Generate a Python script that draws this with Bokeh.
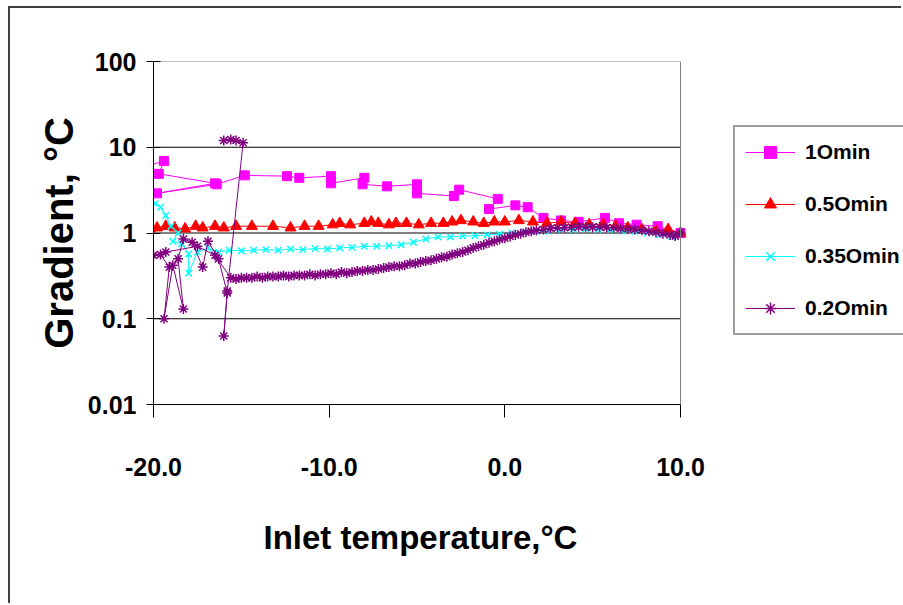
from bokeh.plotting import figure
from bokeh.models import (Legend, LegendItem, FixedTicker, NumeralTickFormatter, Range1d,
                          Span, Title)
from bokeh.embed import file_html
from bokeh.resources import INLINE

# ---------------- data ----------------
series_labels = ["1Omin", "0.5Omin", "0.35Omin", "0.2Omin"]
x_title = "Inlet temperature,°C"
y_title = "Gradient, °C"

m_x = [-20.4, -19.4, -19.7, -16.5, -19.8, -16.4, -14.8, -12.4, -11.7, -9.9, -9.9,
       -8.0, -8.1, -6.7, -5.0, -5.0, -2.9, -2.6, -0.4, -0.9, 0.6, 1.3, 2.2, 3.2,
       4.2, 5.7, 6.5, 7.5, 8.7, 10.0]
m_y = [6.0, 6.9, 4.9, 3.8, 2.9, 3.7, 4.7, 4.6, 4.4, 4.6, 3.8,
       4.4, 3.7, 3.5, 3.7, 2.9, 2.7, 3.2, 2.5, 1.9, 2.1, 2.0, 1.5, 1.4,
       1.35, 1.5, 1.3, 1.25, 1.2, 1.0]

r_x = [-20.2, -19.8, -19.3, -18.8, -18.2, -17.6, -17.2, -16.5, -16.0, -15.3, -14.4,
       -13.2, -12.2, -11.4, -10.6, -9.8, -9.4, -8.8, -8.0, -7.6, -7.2, -6.6, -6.2,
       -5.6, -4.9, -4.2, -3.5, -3.0, -2.5, -1.8, -1.2, -0.6, 0.0, 0.8, 1.6, 2.4,
       3.2, 4.0, 4.8, 5.6, 6.3, 7.0, 7.8, 8.6, 9.3, 10.0]
r_y = [1.12, 1.15, 1.2, 1.15, 1.12, 1.2, 1.15, 1.2, 1.15, 1.2, 1.2,
       1.2, 1.15, 1.2, 1.2, 1.25, 1.3, 1.25, 1.3, 1.35, 1.3, 1.25, 1.3,
       1.3, 1.25, 1.3, 1.3, 1.35, 1.4, 1.35, 1.3, 1.35, 1.35, 1.4, 1.35, 1.3,
       1.35, 1.3, 1.25, 1.25, 1.2, 1.15, 1.1, 1.05, 1.1, 1.0]

c_x = [-19.9, -19.6, -19.3, -19.0, -18.6, -18.9, -18.4, -18.0, -18.0, -17.5, -16.9,
       -16.3, -15.7, -15.0, -14.3, -13.6, -12.9, -12.2, -11.5, -10.8, -10.1, -9.4,
       -8.7, -8.0, -7.3, -6.6, -5.9, -5.2, -4.5, -3.8, -3.1, -2.4, -1.7, -1.0, -0.3,
       0.4, 1.1, 1.8, 2.5, 3.2, 3.9, 4.6, 5.3, 6.0, 6.7, 7.4, 8.1, 8.8, 9.5, 10.0]
c_y = [2.2, 2.0, 1.6, 1.2, 1.0, 0.8, 0.75, 0.57, 0.34, 0.6, 0.67,
       0.6, 0.63, 0.62, 0.63, 0.64, 0.63, 0.65, 0.64, 0.66, 0.65, 0.67,
       0.68, 0.7, 0.7, 0.71, 0.73, 0.78, 0.85, 0.9, 0.9, 0.92, 0.93, 0.95, 0.97,
       1.0, 1.02, 1.05, 1.05, 1.1, 1.1, 1.12, 1.1, 1.1, 1.05, 1.05, 1.0, 0.95, 0.9, 1.0]

p_x = [-16.0, -15.6, -15.3, -14.9, -15.8, -16.0, -15.8, -16.3, -16.9, -17.2, -17.8,
       -18.3, -18.6, -18.3, -18.9, -19.4, -19.1, -19.6, -20.0, -19.3, -17.5, -16.5,
       -15.6, -15.3, -15.0, -14.7, -14.4, -14.1, -13.8, -13.5, -13.2, -12.9, -12.6,
       -12.3, -12.0, -11.7, -11.4, -11.1, -10.8, -10.5, -10.2, -9.9, -9.6, -9.3,
       -9.0, -8.7, -8.4, -8.1, -7.8, -7.5, -7.2, -6.9, -6.6, -6.3, -6.0, -5.7, -5.4,
       -5.1, -4.8, -4.5, -4.2, -3.9, -3.6, -3.3, -3.0, -2.7, -2.4, -2.1, -1.8, -1.5,
       -1.2, -0.9, -0.6, -0.3, 0.0, 0.3, 0.6, 0.9, 1.2, 1.5, 1.8, 2.2, 2.6, 3.0, 3.4,
       3.8, 4.2, 4.6, 5.0, 5.4, 5.8, 6.2, 6.6, 7.0, 7.4, 7.8, 8.2, 8.6, 9.0, 9.4,
       9.7, 10.0]
p_y = [12.0, 12.3, 12.0, 11.3, 0.21, 0.063, 0.2, 0.5, 0.8, 0.4, 0.78,
       0.85, 0.5, 0.13, 0.42, 0.1, 0.4, 0.56, 0.55, 0.6, 0.7, 0.55,
       0.3, 0.29, 0.3, 0.3, 0.3, 0.31, 0.3, 0.31, 0.31, 0.31, 0.32,
       0.31, 0.32, 0.32, 0.32, 0.33, 0.32, 0.33, 0.33, 0.34, 0.33, 0.35,
       0.34, 0.35, 0.36, 0.36, 0.37, 0.37, 0.38, 0.39, 0.4, 0.41, 0.41, 0.42, 0.44,
       0.44, 0.46, 0.47, 0.48, 0.5, 0.52, 0.53, 0.56, 0.58, 0.6, 0.63, 0.67, 0.7,
       0.73, 0.77, 0.8, 0.84, 0.87, 0.91, 0.95, 0.98, 1.02, 1.05, 1.08, 1.1, 1.13, 1.15, 1.15,
       1.17, 1.18, 1.18, 1.17, 1.18, 1.16, 1.15, 1.13, 1.12, 1.1, 1.08, 1.05, 1.02, 0.98, 0.95,
       0.92, 1.0]

x_ticks = [-20, -10, 0, 10]
y_ticks = [0.01, 0.1, 1, 10, 100]
y_tick_labels = ["0.01", "0.1", "1", "10", "100"]
grid_dark = [0.1, 1, 10]
grid_top = [100]

FONT = "'Liberation Sans', Arial, sans-serif"

# layout numbers (pixels)
W, H = 893, 597            # canvas, offset (10, 8) in the page by CSS margin+border
LEFT, TOP, BOTTOM = 143, 53, 201
PLOT_W = 527               # width of the real plotting area (-20 .. 10)
x_lo, x_hi = x_ticks[0], x_ticks[-1]
x_end = x_lo + (x_hi - x_lo) * (W - LEFT) / PLOT_W   # frame extends under the legend

p = figure(width=W, height=H, output_backend="svg", toolbar_location=None,
           y_axis_type="log", x_range=Range1d(x_lo, x_end),
           y_range=Range1d(y_ticks[0], y_ticks[-1]),
           min_border_left=LEFT, min_border_right=0, min_border_top=TOP,
           min_border_bottom=BOTTOM, background_fill_color="white",
           border_fill_color="white",
           styles={"margin-left": "8px", "margin-top": "6px",
                   "border-left": "2px solid #404040",
                   "border-top": "2px solid #404040"})
p.outline_line_color = None
p.xgrid.visible = False
p.ygrid.visible = False

# horizontal grid lines limited to the plotting area
p.segment(x0=[x_lo] * len(grid_dark), x1=[x_hi] * len(grid_dark),
          y0=grid_dark, y1=grid_dark, line_color="black", line_width=1)
p.segment(x0=[x_lo], x1=[x_hi], y0=grid_top, y1=grid_top,
          line_color="#808080", line_width=1)
p.add_layout(Span(location=x_hi, dimension="height", line_color="#808080",
                  line_width=1))

# x axis
xa = p.xaxis[0]
xa.bounds = (x_lo, x_hi)
xa.ticker = FixedTicker(ticks=x_ticks)
xa.formatter = NumeralTickFormatter(format="0.0")
xa.major_tick_in = 0
xa.major_tick_out = 13
xa.minor_tick_out = 0
xa.minor_tick_in = 0
xa.axis_line_color = "black"
xa.major_tick_line_color = "black"
xa.major_label_text_font = FONT
xa.major_label_text_font_style = "bold"
xa.major_label_text_font_size = "25px"
xa.major_label_text_color = "black"
xa.major_label_standoff = 40

# x axis title, centred under the plotting area (not under the legend)
xt = Title(text=x_title, align="left", vertical_align="top", offset=110, standoff=80,
           text_font=FONT, text_font_style="bold", text_font_size="33px",
           text_color="black")
p.add_layout(xt, "below")

# y axis
ya = p.yaxis[0]
ya.ticker = FixedTicker(ticks=y_ticks)
ya.major_label_overrides = {t: l for t, l in zip(y_ticks, y_tick_labels)}
ya.major_tick_in = 7
ya.major_tick_out = 7
ya.minor_tick_out = 0
ya.minor_tick_in = 0
ya.axis_line_color = "black"
ya.major_tick_line_color = "black"
ya.major_label_text_font = FONT
ya.major_label_text_font_style = "bold"
ya.major_label_text_font_size = "25px"
ya.major_label_text_color = "black"
ya.major_label_standoff = 10
ya.axis_label = y_title
ya.axis_label_text_font = FONT
ya.axis_label_text_font_style = "bold"
ya.axis_label_text_font_size = "40px"
ya.axis_label_text_color = "black"
ya.axis_label_standoff = 4

# series
specs = [
    (m_x, m_y, "#FF00FF", "square", 9),
    (r_x, r_y, "#FF0000", "triangle", 11),
    (c_x, c_y, "#00FFFF", "x", 9),
    (p_x, p_y, "#800080", "asterisk", 10),
]
items = []
for (xs, ys, col, mk, sz), lab in zip(specs, series_labels):
    ln = p.line(xs, ys, line_color=col, line_width=1)
    sc = p.scatter(xs, ys, marker=mk, size=sz, line_color=col, fill_color=col,
                   line_width=1.5 if mk in ("x", "asterisk") else 1)
    items.append(LegendItem(label=lab, renderers=[ln, sc]))

legend = Legend(items=items, location=(580, 69))
legend.label_text_font = FONT
legend.label_text_font_style = "bold"
legend.label_text_font_size = "21px"
legend.label_text_color = "black"
legend.border_line_color = "#404040"
legend.border_line_width = 2
legend.background_fill_color = "white"
legend.background_fill_alpha = 1
legend.glyph_width = 50
legend.glyph_height = 30
legend.label_height = 30
legend.spacing = 22
legend.padding = 10
legend.margin = 0
legend.label_standoff = 10
p.add_layout(legend)

open("out.html", "w").write(file_html(p, INLINE))
